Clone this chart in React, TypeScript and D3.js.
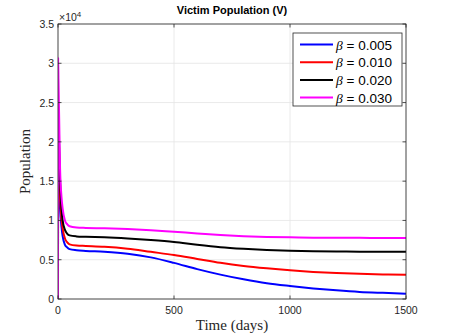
import React from "react";
import * as d3 from "d3";

const W = 449, H = 336;
const times = [0, 0.6, 2, 5, 9, 15, 20, 30, 40, 50, 80, 120, 200, 300, 400, 500, 600, 700, 800, 900, 1000, 1100, 1200, 1300, 1400, 1500];
const blueV = [0, 1.9, 1.75, 1.45, 1.15, 0.92, 0.8, 0.69, 0.655, 0.635, 0.62, 0.612, 0.6, 0.575, 0.53, 0.46, 0.38, 0.31, 0.25, 0.2, 0.165, 0.135, 0.11, 0.09, 0.078, 0.068];
const redV = [0, 2.1, 1.95, 1.65, 1.3, 1.02, 0.9, 0.77, 0.72, 0.695, 0.68, 0.675, 0.665, 0.64, 0.6, 0.56, 0.51, 0.46, 0.42, 0.39, 0.365, 0.345, 0.33, 0.32, 0.313, 0.308];
const blackV = [0, 2.45, 2.25, 1.95, 1.5, 1.15, 1.0, 0.88, 0.83, 0.81, 0.797, 0.792, 0.785, 0.77, 0.75, 0.725, 0.69, 0.66, 0.64, 0.625, 0.615, 0.608, 0.604, 0.602, 0.601, 0.6];
const magentaV = [0, 3.07, 2.8, 2.3, 1.65, 1.3, 1.15, 1.0, 0.95, 0.925, 0.91, 0.905, 0.9, 0.89, 0.875, 0.855, 0.835, 0.815, 0.8, 0.79, 0.785, 0.781, 0.779, 0.778, 0.777, 0.777];
const seriesNames = ["0.005", "0.010", "0.020", "0.030"];
const seriesColors = ["#0000ff", "#ff0000", "#000000", "#ff00ff"];
const seriesData = [blueV, redV, blackV, magentaV];
const xTicks = [0, 500, 1000, 1500];
const yTicks = [0, 0.5, 1, 1.5, 2, 2.5, 3, 3.5];

export default function App() {
  const left = 58, right = 406, top = 24, bottom = 299;
  const x = d3.scaleLinear().domain([0, 1500]).range([left, right]);
  const y = d3.scaleLinear().domain([0, 3.5]).range([bottom, top]);
  const line = d3.line<number>()
    .x((_, i) => x(times[i]))
    .y((v) => y(v))
    .curve(d3.curveMonotoneX);
  const sans = "Liberation Sans, Arial, Helvetica, sans-serif";
  const serif = "Liberation Serif, Times New Roman, serif";
  return (
    <svg width={W} height={H} style={{ position: "absolute", left: 0, top: 0, background: "#fff" }}>
      <rect x={0} y={0} width={W} height={H} fill="#fff" />
      {xTicks.map((t) => (
        <line key={"gx" + t} x1={x(t)} x2={x(t)} y1={top} y2={bottom} stroke="#e5e5e5" strokeWidth={0.8} />
      ))}
      {yTicks.map((t) => (
        <line key={"gy" + t} x1={left} x2={right} y1={y(t)} y2={y(t)} stroke="#e5e5e5" strokeWidth={0.8} />
      ))}
      <defs>
        <clipPath id="clip"><rect x={left} y={top} width={right - left} height={bottom - top} /></clipPath>
      </defs>
      <g clipPath="url(#clip)">
        {seriesData.map((s, i) => (
          <path key={i} d={line(s) || ""} fill="none" stroke={seriesColors[i]} strokeWidth={2} />
        ))}
      </g>
      <rect x={left} y={top} width={right - left} height={bottom - top} fill="none" stroke="#262626" strokeWidth={0.8} />
      {xTicks.map((t) => (
        <g key={"xt" + t}>
          <line x1={x(t)} x2={x(t)} y1={bottom} y2={bottom - 3.5} stroke="#262626" strokeWidth={0.8} />
          <line x1={x(t)} x2={x(t)} y1={top} y2={top + 3.5} stroke="#262626" strokeWidth={0.8} />
          <text x={x(t)} y={bottom + 15} textAnchor="middle" fontFamily={sans} fontSize={10.5} fill="#262626">{t}</text>
        </g>
      ))}
      {yTicks.map((t) => (
        <g key={"yt" + t}>
          <line x1={left} x2={left + 3.5} y1={y(t)} y2={y(t)} stroke="#262626" strokeWidth={0.8} />
          <line x1={right} x2={right - 3.5} y1={y(t)} y2={y(t)} stroke="#262626" strokeWidth={0.8} />
          <text x={left - 4} y={y(t) + 4} textAnchor="end" fontFamily={sans} fontSize={10.5} fill="#262626">{t}</text>
        </g>
      ))}
      <text x={59} y={21} fontFamily={sans} fontSize={10.5} fill="#262626">
        ×10<tspan dy={-4.5} fontSize={8}>4</tspan>
      </text>
      <text x={232} y={14} textAnchor="middle" fontFamily={sans} fontSize={11} fontWeight="bold" fill="#000">Victim Population (V)</text>
      <text x={232} y={330} textAnchor="middle" fontFamily={serif} fontSize={15} fill="#262626">Time (days)</text>
      <text transform={`translate(30,${(top + bottom) / 2}) rotate(-90)`} textAnchor="middle" fontFamily={serif} fontSize={15} fill="#262626">Population</text>
      <rect x={293} y={33} width={109} height={73} fill="#fff" stroke="#262626" strokeWidth={0.8} />
      {seriesNames.map((n, i) => (
        <g key={"lg" + i}>
          <line x1={300} x2={333} y1={44.5 + i * 17.7} y2={44.5 + i * 17.7} stroke={seriesColors[i]} strokeWidth={2} />
          <text x={336} y={49.5 + i * 17.7} fontFamily={sans} fontSize={13.5} fill="#000">
            <tspan fontFamily={serif} fontStyle="italic">β</tspan> = {n}
          </text>
        </g>
      ))}
    </svg>
  );
}
